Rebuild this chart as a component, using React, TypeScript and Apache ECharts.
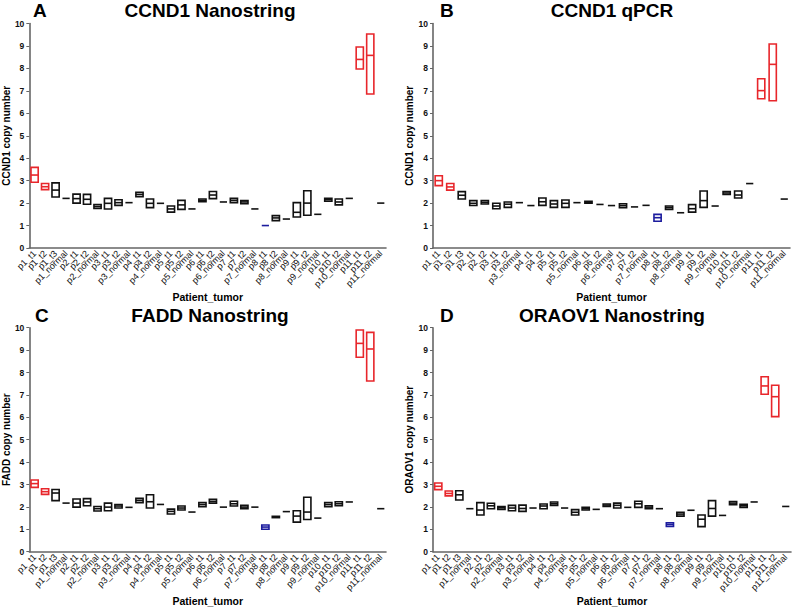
import React, { useEffect, useRef } from "react";
import * as echarts from "echarts";

// ---------- categories ----------
const categoriesFull = [
  "p1_t1", "p1_t2", "p1_t3", "p1_normal", "p2_t1", "p2_t2", "p2_normal",
  "p3_t1", "p3_t2", "p3_normal", "p4_t1", "p4_t2", "p4_normal",
  "p5_t1", "p5_t2", "p5_normal", "p6_t1", "p6_t2", "p6_normal",
  "p7_t1", "p7_t2", "p7_normal", "p8_t1", "p8_t2", "p8_normal",
  "p9_t1", "p9_t2", "p9_normal", "p10_t1", "p10_t2", "p10_normal",
  "p11_t1", "p11_t2", "p11_normal",
];
const categoriesQPCR = [
  "p1_t1", "p1_t2", "p1_t3", "p2_t1", "p2_t2",
  "p3_t1", "p3_t2", "p3_normal", "p4_t1", "p4_t2",
  "p5_t1", "p5_t2", "p5_normal", "p6_t1", "p6_t2", "p6_normal",
  "p7_t1", "p7_t2", "p7_normal", "p8_t1", "p8_t2", "p8_normal",
  "p9_t1", "p9_t2", "p9_normal", "p10_t1", "p10_t2", "p10_normal",
  "p11_t1", "p11_t2", "p11_normal",
];
const redCategories = ["p1_t1", "p1_t2", "p11_t1", "p11_t2"];
const blueCategories = ["p8_t1"];
const yTicks = [0, 10, 1]; // min, max, interval

// ---------- A: CCND1 Nanostring ----------
const aMin = [2.93, 2.60, 2.27, 2.21, 2.00, 1.95, 1.76, 1.74, 1.90, 2.02, 2.29, 1.80, 1.99, 1.60, 1.72, 1.74, 2.06, 2.20, 2.05, 2.02, 1.97, 1.74, 0.99, 1.22, 1.29, 1.38, 1.46, 1.50, 2.08, 1.92, 2.21, 7.97, 6.86, 2.00];
const aMax = [3.59, 2.87, 2.90, 2.21, 2.40, 2.39, 1.93, 2.21, 2.15, 2.02, 2.48, 2.18, 1.99, 1.87, 2.12, 1.74, 2.18, 2.52, 2.05, 2.21, 2.11, 1.74, 1.01, 1.44, 1.29, 2.02, 2.55, 1.50, 2.21, 2.18, 2.21, 8.95, 9.53, 2.00];
const aMean = [3.25, 2.73, 2.58, 2.21, 2.20, 2.17, 1.84, 1.99, 2.02, 2.02, 2.39, 1.99, 1.99, 1.74, 1.92, 1.74, 2.12, 2.36, 2.05, 2.12, 2.05, 1.74, 1.00, 1.34, 1.29, 1.59, 2.00, 1.50, 2.15, 2.05, 2.21, 8.40, 8.58, 2.00];

// ---------- B: CCND1 qPCR ----------
const bMin = [2.78, 2.58, 2.18, 1.89, 1.96, 1.75, 1.81, 2.02, 1.89, 1.90, 1.81, 1.81, 2.02, 1.99, 1.94, 1.89, 1.80, 1.83, 1.90, 1.19, 1.72, 1.57, 1.60, 1.81, 1.87, 2.38, 2.23, 2.87, 6.65, 6.56, 2.18];
const bMax = [3.22, 2.87, 2.51, 2.11, 2.11, 1.99, 2.05, 2.02, 1.89, 2.23, 2.11, 2.14, 2.02, 2.08, 1.94, 1.89, 1.97, 1.83, 1.90, 1.50, 1.87, 1.57, 1.93, 2.54, 1.87, 2.52, 2.54, 2.87, 7.54, 9.09, 2.18];
const bMean = [3.00, 2.72, 2.35, 1.99, 2.03, 1.87, 1.95, 2.02, 1.89, 2.06, 1.96, 1.99, 2.02, 2.03, 1.94, 1.89, 1.89, 1.83, 1.90, 1.35, 1.80, 1.57, 1.75, 2.11, 1.87, 2.45, 2.36, 2.87, 7.01, 8.18, 2.18];

// ---------- C: FADD Nanostring ----------
const cMin = [2.87, 2.56, 2.28, 2.17, 1.99, 2.05, 1.82, 1.83, 1.95, 1.98, 2.19, 1.95, 2.11, 1.68, 1.86, 1.77, 2.01, 2.17, 1.99, 2.04, 1.92, 1.99, 1.00, 1.52, 1.79, 1.32, 1.44, 1.50, 2.01, 2.05, 2.22, 8.68, 7.62, 1.92];
const cMax = [3.20, 2.81, 2.78, 2.17, 2.35, 2.37, 2.02, 2.17, 2.11, 1.98, 2.38, 2.54, 2.11, 1.90, 2.04, 1.77, 2.19, 2.34, 1.99, 2.25, 2.07, 1.99, 1.19, 1.58, 1.79, 1.83, 2.43, 1.50, 2.19, 2.23, 2.22, 9.90, 9.79, 1.92];
const cMean = [3.04, 2.68, 2.62, 2.17, 2.17, 2.22, 1.92, 1.99, 2.04, 1.98, 2.29, 2.23, 2.11, 1.80, 1.95, 1.77, 2.10, 2.25, 1.99, 2.14, 1.99, 1.99, 1.10, 1.55, 1.79, 1.59, 1.77, 1.50, 2.10, 2.14, 2.22, 9.30, 9.05, 1.92];

// ---------- D: ORAOV1 Nanostring ----------
const dMin = [2.77, 2.49, 2.31, 1.92, 1.64, 1.92, 1.89, 1.83, 1.80, 1.95, 1.92, 2.07, 1.95, 1.64, 1.86, 1.89, 2.02, 1.95, 1.98, 1.98, 1.92, 1.92, 1.13, 1.59, 1.85, 1.12, 1.59, 1.62, 2.10, 1.98, 2.22, 7.03, 6.03, 2.02];
const dMax = [3.07, 2.71, 2.72, 1.92, 2.19, 2.16, 2.02, 2.07, 2.08, 1.95, 2.13, 2.22, 1.95, 1.88, 1.98, 1.89, 2.13, 2.17, 1.98, 2.25, 2.05, 1.92, 1.29, 1.76, 1.85, 1.64, 2.28, 1.62, 2.24, 2.12, 2.22, 7.81, 7.43, 2.02];
const dMean = [2.92, 2.60, 2.54, 1.92, 1.86, 2.05, 1.96, 1.95, 1.93, 1.95, 2.04, 2.14, 1.95, 1.76, 1.92, 1.89, 2.08, 2.07, 1.98, 2.14, 1.99, 1.92, 1.22, 1.68, 1.85, 1.45, 1.93, 1.62, 2.17, 2.05, 2.22, 7.40, 6.92, 2.02];

const FONT = "'Liberation Sans', Arial, Helvetica, sans-serif";
const RED = "#e8262b";
const BLUE = "#1c1c9e";
const BLACK = "#111111";
const AXIS = "#666666";

const panels = [
  { letter: "A", title: "CCND1 Nanostring", yName: "CCND1 copy number", cats: categoriesFull, min: aMin, max: aMax, mean: aMean,
    grid: { left: 28, top: 23.5, width: 358, height: 224.5 }, titleX: 210, titleY: 1, letterX: 33 },
  { letter: "B", title: "CCND1 qPCR", yName: "CCND1 copy number", cats: categoriesQPCR, min: bMin, max: bMax, mean: bMean,
    grid: { left: 433, top: 23.5, width: 357, height: 224.5 }, titleX: 612, titleY: 1, letterX: 440 },
  { letter: "C", title: "FADD Nanostring", yName: "FADD copy number", cats: categoriesFull, min: cMin, max: cMax, mean: cMean,
    grid: { left: 28, top: 327.7, width: 358, height: 224 }, titleX: 210, titleY: 306, letterX: 35 },
  { letter: "D", title: "ORAOV1 Nanostring", yName: "ORAOV1 copy number", cats: categoriesFull, min: dMin, max: dMax, mean: dMean,
    grid: { left: 433, top: 327.7, width: 358, height: 224 }, titleX: 612, titleY: 306, letterX: 440 },
];

function colorFor(cat: string) {
  if (redCategories.includes(cat)) return RED;
  if (blueCategories.includes(cat)) return BLUE;
  return BLACK;
}

export default function App() {
  const ref = useRef<HTMLDivElement>(null);
  useEffect(() => {
    document.body.style.margin = "0";
    const chart = echarts.init(ref.current!, null, { renderer: "svg" });

    const grid = panels.map((p) => p.grid);
    const xAxis = panels.map((p, i) => ({
      type: "category",
      gridIndex: i,
      data: p.cats,
      boundaryGap: true,
      axisLine: { lineStyle: { color: AXIS, width: 1.6 } },
      axisTick: { alignWithLabel: true, length: 3, lineStyle: { color: AXIS, width: 1 } },
      axisLabel: { rotate: 45, interval: 0, fontSize: 9, color: "#111", margin: 4, fontFamily: FONT },
      name: "Patient_tumor",
      nameLocation: "middle",
      nameGap: 42,
      nameTextStyle: { fontSize: 10.5, fontWeight: "bold", color: "#000", fontFamily: FONT },
      splitLine: { show: false },
    }));
    const yAxis = panels.map((p, i) => ({
      type: "value",
      gridIndex: i,
      min: yTicks[0],
      max: yTicks[1],
      interval: yTicks[2],
      axisLine: { show: true, lineStyle: { color: AXIS, width: 1.6 } },
      axisTick: { show: true, length: 3, lineStyle: { color: AXIS, width: 1 } },
      axisLabel: { fontSize: 8.5, fontWeight: "bold", color: "#111", margin: 5, fontFamily: FONT },
      splitLine: { show: false },
      name: p.yName,
      nameLocation: "middle",
      nameGap: 16,
      nameTextStyle: { fontSize: 10, fontWeight: "bold", color: "#000", fontFamily: FONT },
    }));

    const series = panels.map((p, i) => ({
      type: "custom",
      xAxisIndex: i,
      yAxisIndex: i,
      clip: false,
      encode: { x: 0, y: [1, 2, 3] },
      data: p.cats.map((c, k) => [k, p.min[k], p.max[k], p.mean[k]]),
      renderItem: (params: any, api: any) => {
        const idx = api.value(0);
        const x = api.coord([idx, 0])[0];
        const yLo = api.coord([idx, api.value(1)])[1];
        const yHi = api.coord([idx, api.value(2)])[1];
        const yMe = api.coord([idx, api.value(3)])[1];
        const half = 3.6;
        const color = colorFor(p.cats[params.dataIndex]);
        const children: any[] = [];
        if (Math.abs(yLo - yHi) > 0.5) {
          children.push({
            type: "rect",
            shape: { x: x - half, y: yHi, width: half * 2, height: yLo - yHi },
            style: { fill: "none", stroke: color, lineWidth: 1.6 },
          });
        }
        children.push({
          type: "line",
          shape: { x1: x - half, y1: yMe, x2: x + half, y2: yMe },
          style: { stroke: color, lineWidth: 1.6 },
        });
        return { type: "group", children };
      },
    }));

    const graphic: any[] = [];
    panels.forEach((p) => {
      graphic.push({
        type: "text", x: p.letterX, y: p.titleY,
        style: { text: p.letter, font: `bold 19px ${FONT}`, fill: "#000", textAlign: "left", textVerticalAlign: "top" },
      });
      graphic.push({
        type: "text", x: p.titleX, y: p.titleY,
        style: { text: p.title, font: `bold 19px ${FONT}`, fill: "#000", textAlign: "center", textVerticalAlign: "top" },
      });
    });

    chart.setOption({
      animation: false,
      backgroundColor: "#ffffff",
      grid,
      xAxis,
      yAxis,
      series,
      graphic,
    } as any);
    return () => chart.dispose();
  }, []);
  return <div ref={ref} style={{ width: 793, height: 612 }} />;
}
